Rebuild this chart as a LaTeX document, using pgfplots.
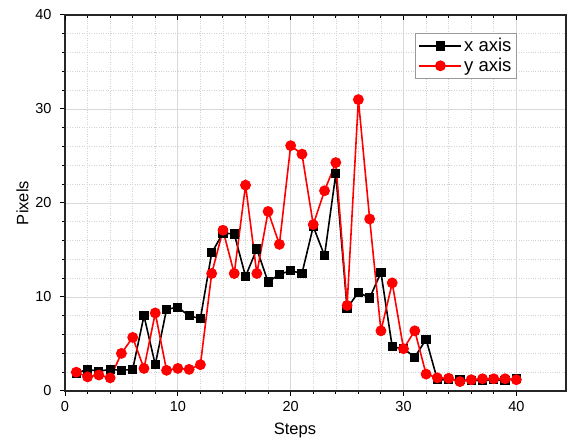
\documentclass[border=0pt]{standalone}
\usepackage{fontspec}
\setmainfont{Liberation Sans}
\usepackage{pgfplots}
\pgfplotsset{compat=1.18}

\pgfplotstableread{
step xax yax
1  1.9  2.0
2  2.3  1.5
3  2.1  1.7
4  2.3  1.4
5  2.2  4.0
6  2.3  5.7
7  8.0  2.4
8  2.8  8.3
9  8.7  2.2
10 8.9  2.4
11 8.0  2.3
12 7.7  2.8
13 14.7 12.5
14 16.8 17.1
15 16.7 12.5
16 12.2 21.9
17 15.1 12.5
18 11.6 19.1
19 12.4 15.6
20 12.8 26.1
21 12.5 25.2
22 17.5 17.7
23 14.4 21.3
24 23.1 24.3
25 8.8  9.1
26 10.5 31.0
27 9.9  18.3
28 12.6 6.4
29 4.7  11.5
30 4.5  4.5
31 3.6  6.4
32 5.5  1.8
33 1.2  1.4
34 1.2  1.35
35 1.2  1.0
36 1.1  1.2
37 1.1  1.3
38 1.2  1.3
39 1.1  1.3
40 1.35 1.2
}\datatab

\begin{document}
\begin{tikzpicture}
\begin{axis}[
  scale only axis,
  width=501pt, height=376pt,
  xmin=0, xmax=44.4, ymin=0, ymax=40,
  xtick={0,10,20,30,40}, ytick={0,10,20,30,40},
  minor tick num=4,
  tick align=outside,
  xtick pos=left, ytick pos=left,
  major tick length=5pt, minor tick length=3pt,
  every tick/.style={black, line width=1pt},
  axis line style={line width=1.3pt, black!85},
  grid=both,
  major grid style={gray!30, line width=0.8pt},
  minor grid style={gray!35, dotted, line width=0.6pt},
  ticklabel style={font=\fontsize{14.5}{16}\selectfont},
  xticklabel style={yshift=-2pt},
  yticklabel style={xshift=-5pt},
  /pgf/number format/assume math mode=true,
  xlabel={Steps}, ylabel={Pixels},
  label style={font=\fontsize{16.5}{18}\selectfont},
  xlabel style={at={(axis description cs:0.459,-0.106)}, anchor=center},
  ylabel style={at={(axis description cs:-0.085,0.5)}, anchor=center},
  legend style={at={(0.902,0.952)}, anchor=north east,
    draw=gray!80, line width=0.8pt,
    font=\fontsize{18.5}{21}\selectfont,
    row sep=1pt, inner xsep=3pt, inner ysep=3pt},
  legend cell align=left,
  legend image code/.code={
    \draw[#1, line width=1.6pt] (0pt,0pt) -- (42pt,0pt);
    \draw[#1, only marks] plot coordinates {(21pt,0pt)};
  },
]
\addplot[black, line width=1.6pt, mark=square*, mark size=3.8pt,
  mark options={solid}] table[x=step, y=xax] {\datatab};
\addlegendentry{x axis}
\addplot[red, line width=1.6pt, mark=*, mark size=4.6pt,
  mark options={solid}] table[x=step, y=yax] {\datatab};
\addlegendentry{y axis}
\end{axis}
\begin{axis}[
  scale only axis,
  width=501pt, height=376pt,
  xmin=0, xmax=44.4, ymin=0, ymax=40,
  axis x line*=top, axis y line=none,
  xtick={0,10,20,30,40}, minor x tick num=4,
  xticklabels={},
  tick align=inside,
  major tick length=5pt, minor tick length=3pt,
  every tick/.style={black, line width=1pt},
  axis line style={line width=1.3pt, black!85},
]
\end{axis}
\pgfresetboundingbox
\path ([xshift=-65pt,yshift=-50pt]current axis.south west)
  rectangle ([xshift=1pt,yshift=15pt]current axis.north east);
\end{tikzpicture}
\end{document}
